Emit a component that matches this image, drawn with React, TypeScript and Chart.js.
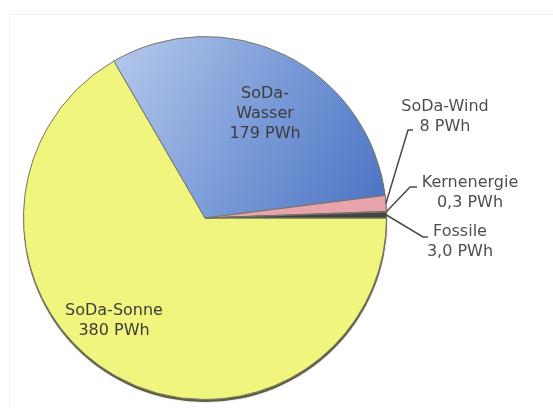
import React, { useEffect, useRef } from "react";
import { Chart, registerables } from "chart.js";

Chart.register(...registerables);

const categories = ["SoDa-Sonne", "SoDa-Wasser", "SoDa-Wind", "Kernenergie", "Fossile"];
const values = [380, 179, 8, 0.3, 3];
const valueLabels = ["380 PWh", "179 PWh", "8 PWh", "0,3 PWh", "3,0 PWh"];
const labelLines: string[][] = [
  ["SoDa-Sonne", valueLabels[0]],
  ["SoDa-", "Wasser", valueLabels[1]],
  ["SoDa-Wind", valueLabels[2]],
  ["Kernenergie", valueLabels[3]],
  ["Fossile", valueLabels[4]],
];

// label placement relative to pie centre (dx, dy of first text line centre), plus leader elbow
const labelLayout = [
  { inside: true, dx: -91, dy: 93 },
  { inside: true, dx: 60, dy: -124 },
  { inside: false, dx: 240, dy: -111, elbow: [203, -88], end: [208, -88] },
  { inside: false, dx: 265, dy: -35, elbow: [205, -31], end: [212, -31] },
  { inside: false, dx: 255, dy: 14, elbow: [218, 19], end: [223, 19] },
];

const labelPlugin = {
  id: "pieLabels",
  beforeDraw(chart: any) {
    const ctx = chart.ctx;
    ctx.save();
    ctx.strokeStyle = "#efefef";
    ctx.lineWidth = 1;
    ctx.beginPath();
    ctx.moveTo(9.5, 408);
    ctx.lineTo(9.5, 14.5);
    ctx.lineTo(553, 14.5);
    ctx.stroke();
    ctx.restore();
  },
  beforeDatasetsDraw(chart: any) {
    const meta = chart.getDatasetMeta(0);
    const a = meta.data[0];
    if (!a) return;
    const ctx = chart.ctx;
    ctx.save();
    ctx.fillStyle = "#5f5f45";
    ctx.shadowColor = "rgba(90,90,60,0.6)";
    ctx.shadowBlur = 1.5;
    ctx.beginPath();
    ctx.arc(a.x + 0.3, a.y + 2.2, a.outerRadius + 0.3, 0, Math.PI * 2);
    ctx.fill();
    ctx.restore();
  },
  afterDatasetsDraw(chart: any) {
    const ctx = chart.ctx;
    const meta = chart.getDatasetMeta(0);
    const arc0 = meta.data[0];
    const cx = arc0.x;
    const cy = arc0.y;
    ctx.save();
    ctx.font = "16px 'DejaVu Sans', Verdana, sans-serif";
    ctx.textAlign = "center";
    ctx.textBaseline = "middle";
    labelLines.forEach((lines, i) => {
      const lay: any = labelLayout[i];
      const arc = meta.data[i];
      const tx = cx + lay.dx;
      const ty = cy + lay.dy;
      ctx.fillStyle = lay.inside ? "#3c3c3c" : "#4e4e4e";
      lines.forEach((ln, j) => {
        ctx.fillText(ln, tx, ty + j * 20);
      });
      if (!lay.inside) {
        const mid = (arc.startAngle + arc.endAngle) / 2;
        const r = arc.outerRadius;
        ctx.strokeStyle = "#4a4a4a";
        ctx.lineWidth = 1.5;
        ctx.beginPath();
        ctx.moveTo(cx + Math.cos(mid) * r, cy + Math.sin(mid) * r);
        ctx.lineTo(cx + lay.elbow[0], cy + lay.elbow[1]);
        ctx.lineTo(cx + lay.end[0], cy + lay.end[1]);
        ctx.stroke();
      }
    });
    ctx.restore();
  },
};

export default function App() {
  const ref = useRef<HTMLCanvasElement>(null);
  useEffect(() => {
    if (!ref.current) return;
    const chart = new Chart(ref.current, {
      type: "pie",
      data: {
        labels: categories,
        datasets: [
          {
            data: values,
            backgroundColor: (c: any) => {
              const i = c.dataIndex;
              if (i === 1) {
                const area = c.chart.chartArea;
                if (!area) return "#7a9ad6";
                const g = c.chart.ctx.createLinearGradient(110, 60, 390, 210);
                g.addColorStop(0, "#b3c7ea");
                g.addColorStop(0.5, "#7a9bd8");
                g.addColorStop(1, "#4a72c2");
                return g;
              }
              return ["#eff57d", "", "#e9a3ad", "#3a3a3a", "#444444"][i];
            },
            borderColor: "#777766",
            borderWidth: 1,
          },
        ],
      },
      options: {
        responsive: false,
        animation: false,
        rotation: 90,
        layout: { padding: { left: 23, right: 166, top: 36, bottom: 8 } },
        plugins: {
          legend: { display: false },
          tooltip: { enabled: false },
          title: { display: false },
        },
      },
      plugins: [labelPlugin],
    });
    return () => chart.destroy();
  }, []);
  return (
    <div style={{ position: "absolute", left: 0, top: 0, width: 553, height: 408, background: "#fff" }}>
      <canvas ref={ref} width={553} height={408} style={{ width: 553, height: 408 }} />
    </div>
  );
}
